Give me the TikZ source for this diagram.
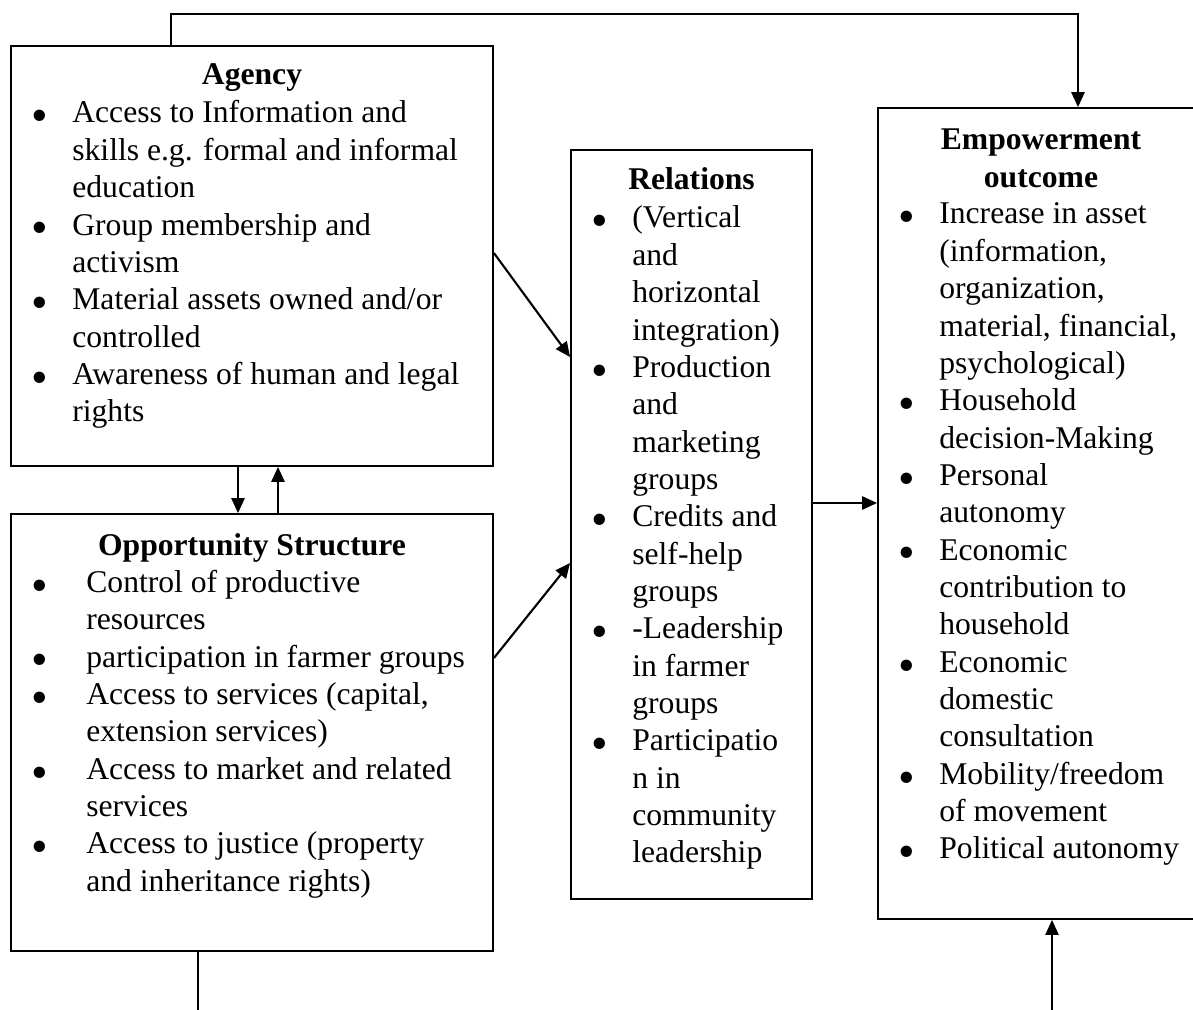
\documentclass[tikz,border=0pt]{standalone}
\usepackage{fontspec}
\setmainfont{Liberation Serif}
\usetikzlibrary{arrows.meta}
\newcommand{\bul}[1][0.49cm]{\llap{\smash{\raisebox{-5pt}{\scalebox{1.5}{\textbullet}}}\hspace{#1}}}
\newcommand{\boxlines}[2][l]{\begin{tabular}[t]{@{}#1@{}}#2\end{tabular}}

\begin{document}
\begin{tikzpicture}[x=0.02cm, y=-0.02cm,
    panel/.style={rectangle, draw, line width=1.1pt, inner sep=0pt},
    head/.style={anchor=base, font=\fontsize{18}{21.26}\selectfont\bfseries, inner sep=0pt},
    body/.style={anchor=base west, font=\fontsize{18}{21.26}\selectfont, inner sep=0pt},
    arrow/.style={-{Triangle[length=8.5pt, width=7.5pt]}, line width=1.2pt},
    link/.style={line width=1pt}
]
    \useasboundingbox (0,0) rectangle (1193,1010);

    % Boxes
    \node[panel, minimum width=9.64cm, minimum height=8.4cm] (agency) at (252,256) {};
    \node[panel, minimum width=9.64cm, minimum height=8.74cm] (opp) at (252,732.5) {};
    \node[panel, minimum width=4.82cm, minimum height=14.98cm] (rel) at (691.5,524.5) {};
    \node[panel, minimum width=6.52cm, minimum height=16.22cm] (emp) at (1041,513.5) {};

    % Agency
    \node[head] (agencyhead) at (252,85) {Agency};
    \node[body] (agencylist) at (72,123) {\boxlines{\bul Access to Information and\\ skills e.g. formal and informal\\ education\\
        \bul Group membership and\\ activism\\
        \bul Material assets owned and/or\\ controlled\\
        \bul Awareness of human and legal\\ rights}};

    % Opportunity Structure
    \node[head] (opphead) at (252,555) {Opportunity Structure};
    \node[body] (opplist) at (86,592.5) {\boxlines{\bul[0.77cm]Control of productive\\ resources\\
        \bul[0.77cm]participation in farmer groups\\
        \bul[0.77cm]Access to services (capital,\\ extension services)\\
        \bul[0.77cm]Access to market and related\\ services\\
        \bul[0.77cm]Access to justice (property\\ and inheritance rights)}};

    % Relations
    \node[head] (relhead) at (691.5,190) {Relations};
    \node[body] (rellist) at (632,228) {\boxlines{\bul (Vertical\\ and\\ horizontal\\ integration)\\
        \bul Production\\ and\\ marketing\\ groups\\
        \bul Credits and\\ self-help\\ groups\\
        \bul -Leadership\\ in farmer\\ groups\\
        \bul Participatio\\ n in\\ community\\ leadership}};

    % Empowerment outcome
    \node[head] (emphead) at (1041,150) {\boxlines[c]{Empowerment\\ outcome}};
    \node[body] (emplist) at (939,224) {\boxlines{\bul Increase in asset\\ (information,\\ organization,\\ material, financial,\\ psychological)\\
        \bul Household\\ decision-Making\\
        \bul Personal\\ autonomy\\
        \bul Economic\\ contribution to\\ household\\
        \bul Economic\\ domestic\\ consultation\\
        \bul Mobility/freedom\\ of movement\\
        \bul Political autonomy}};

    % Connectors
    \draw[arrow] ([xshift=-1.62cm]agency.north) -- ++(0,-31) -| ([xshift=0.74cm]emp.north);
    \draw[arrow] ([xshift=-0.28cm]agency.south) -- ([xshift=-0.28cm]opp.north);
    \draw[arrow] ([xshift=0.52cm]opp.north) -- ([xshift=0.52cm]agency.south);
    \draw[arrow] ([yshift=0.06cm]agency.east) -- ([yshift=3.35cm]rel.west);
    \draw[arrow] ([yshift=1.49cm]opp.east) -- ([yshift=-0.77cm]rel.west);
    \draw[arrow] ([yshift=0.43cm]rel.east) -- ([yshift=0.43cm]rel.east -| emp.west);

    % Open ends at the bottom
    \coordinate (oppout) at (198,1012);
    \coordinate (empin) at (1052,1012);
    \draw[link] ([xshift=-1.08cm]opp.south) -- (oppout);
    \draw[arrow, line width=1pt] (empin) -- (empin |- emp.south);
\end{tikzpicture}
\end{document}
